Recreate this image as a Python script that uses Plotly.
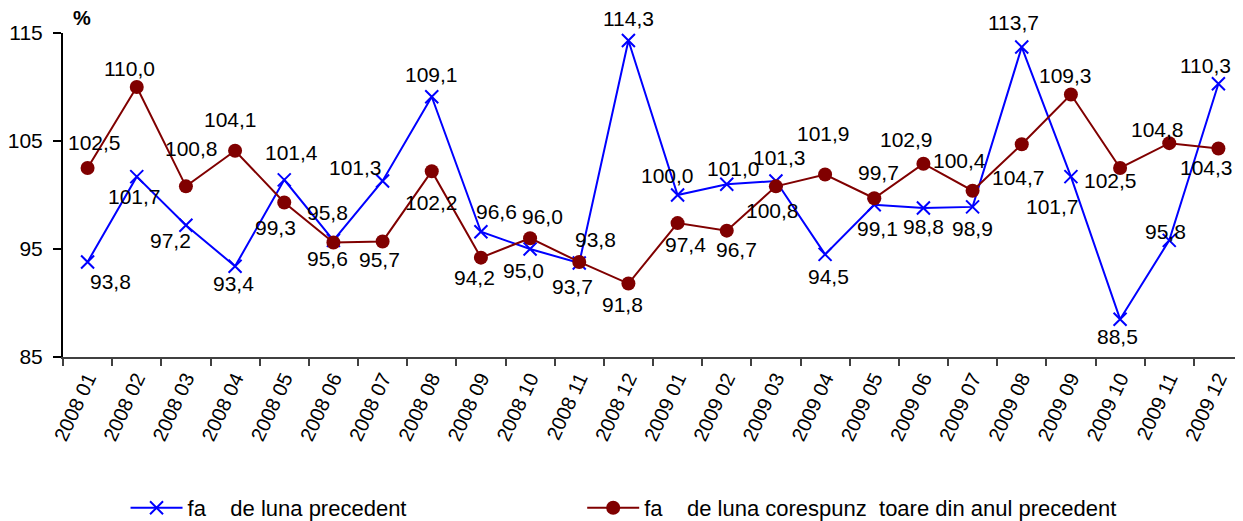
import plotly.graph_objects as go

categories = ["2008 01", "2008 02", "2008 03", "2008 04", "2008 05", "2008 06",
              "2008 07", "2008 08", "2008 09", "2008 10", "2008 11", "2008 12",
              "2009 01", "2009 02", "2009 03", "2009 04", "2009 05", "2009 06",
              "2009 07", "2009 08", "2009 09", "2009 10", "2009 11", "2009 12"]

prev_month = [93.8, 101.7, 97.2, 93.4, 101.4, 95.8, 101.3, 109.1, 96.6, 95.0, 93.7, 114.3,
              100.0, 101.0, 101.3, 94.5, 99.1, 98.8, 98.9, 113.7, 101.7, 88.5, 95.8, 110.3]

same_month_prev_year = [102.5, 110.0, 100.8, 104.1, 99.3, 95.6, 95.7, 102.2, 94.2, 96.0, 93.8, 91.8,
                        97.4, 96.7, 100.8, 101.9, 99.7, 102.9, 100.4, 104.7, 109.3, 102.5, 104.8, 104.3]

y_ticks = [85, 95, 105, 115]

name_prev = "fa\u00a0\u00a0\u00a0\u00a0de luna precedent"
name_year = "fa\u00a0\u00a0\u00a0\u00a0de luna corespunz\u00a0\u00a0toare din anul precedent"

# label offsets in pixels (dx right, dy down) relative to each point
blue_off = [(23, 20), (-2, 20), (-15, 15), (-2, 17), (7, -27), (-6, -28), (-27, -13), (0, -22),
            (16, -20), (-7, 21), (-7, 23), (0, -22), (-10, -20), (7, -16), (4, -23), (3, 22),
            (3, 24), (0, 19), (0, 22), (-8, -25), (-18, 30), (-3, 17), (-4, -9), (-13, -18)]
red_off = [(7, -26), (-7, -19), (6, -38), (-5, -31), (-9, 25), (-6, 16), (-3, 18), (0, 31),
           (-6, 20), (12, -22), (16, -22), (-6, 21), (8, 21), (10, 19), (-3, 24), (-2, -41),
           (4, -26), (-17, -24), (-13, -30), (-3, 33), (-5, -19), (-10, 12), (-12, -14), (-12, 19)]

FONT = "Liberation Sans, Arial, sans-serif"
BLUE = "#0000FF"
RED = "#800000"

fig = go.Figure()
fig.add_trace(go.Scatter(
    x=categories, y=prev_month, mode="lines+markers", name=name_prev,
    line=dict(color=BLUE, width=2),
    marker=dict(symbol="x-thin", size=13, color=BLUE, line=dict(color=BLUE, width=2)),
    legend="legend",
))
fig.add_trace(go.Scatter(
    x=categories, y=same_month_prev_year, mode="lines+markers", name=name_year,
    line=dict(color=RED, width=2),
    marker=dict(symbol="circle", size=14, color=RED),
    legend="legend2",
))

def fmt(v):
    return f"{v:.1f}".replace(".", ",")

annotations = []
for series, offs in ((prev_month, blue_off), (same_month_prev_year, red_off)):
    for c, v, (dx, dy) in zip(categories, series, offs):
        annotations.append(dict(
            x=c, y=v, xref="x", yref="y", text=fmt(v), showarrow=False,
            xshift=dx, yshift=-dy, xanchor="center", yanchor="middle",
            font=dict(family=FONT, size=21, color="#000000"),
        ))
annotations.append(dict(
    x=0.016, y=1.046, xref="paper", yref="paper", text="<b>%</b>", showarrow=False,
    xanchor="center", yanchor="middle", font=dict(family=FONT, size=20, color="#000000"),
))

# the page body adds an 8px margin, so the figure is sized 8px smaller
fig.update_layout(
    width=1235, height=513,
    margin=dict(l=55, r=0, t=25, b=164, autoexpand=False),
    paper_bgcolor="white", plot_bgcolor="white",
    font=dict(family=FONT, color="#000000"),
    annotations=annotations,
    legend=dict(orientation="h", x=0.053, y=-0.466, xanchor="left", yanchor="middle",
                itemwidth=52,
                font=dict(family=FONT, size=22, color="#000000"), bgcolor="rgba(0,0,0,0)"),
    legend2=dict(orientation="h", x=0.44, y=-0.466, xanchor="left", yanchor="middle",
                 itemwidth=52,
                 font=dict(family=FONT, size=22, color="#000000"), bgcolor="rgba(0,0,0,0)"),
    showlegend=True,
)
fig.update_xaxes(
    type="category", range=[-0.5, len(categories) - 0.5],
    showline=True, linecolor="#404040", linewidth=2,
    ticks="outside", tickson="boundaries", ticklen=7, tickwidth=2, tickcolor="#404040",
    tickangle=-65, tickfont=dict(family=FONT, size=20, color="#000000"),
    showgrid=False, zeroline=False,
)
fig.update_yaxes(
    range=[85, 115], tickvals=y_ticks, ticktext=[str(t) for t in y_ticks],
    showline=True, linecolor="#000000", linewidth=2,
    ticks="outside", ticklen=8, tickwidth=2, tickcolor="#000000",
    tickfont=dict(family=FONT, size=21, color="#000000"),
    ticklabelstandoff=6,
    showgrid=False, zeroline=False,
)

fig.write_html("out.html")
